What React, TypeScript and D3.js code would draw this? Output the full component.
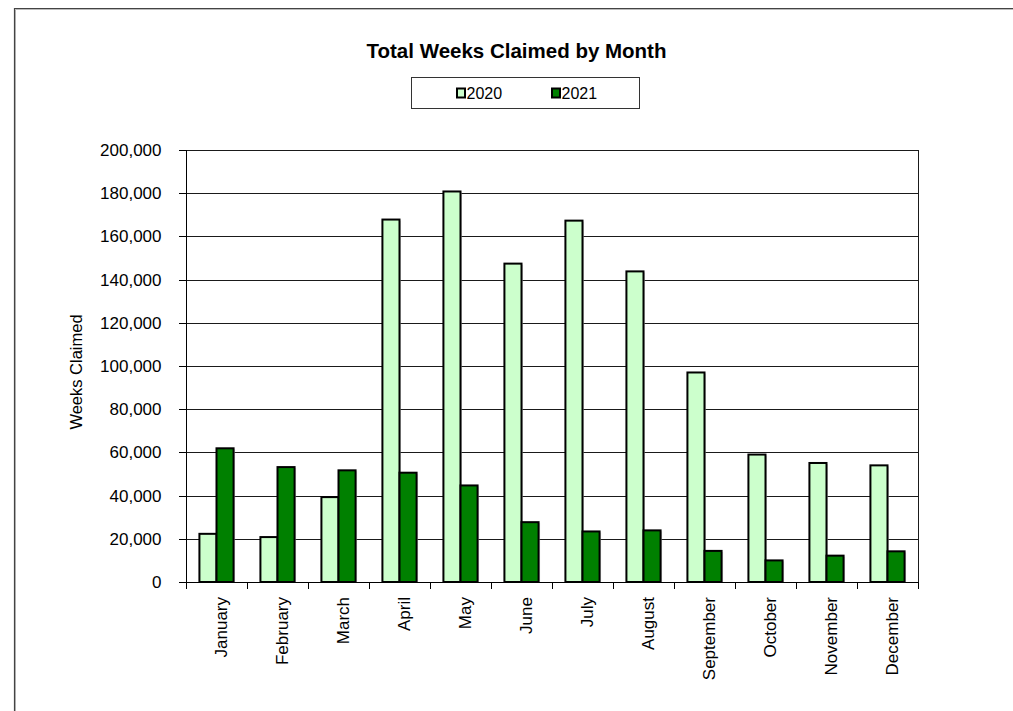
import React from "react";
import * as d3 from "d3";

const months = ["January","February","March","April","May","June","July","August","September","October","November","December"];
const series = ["2020", "2021"];
const values2020 = [22300, 20800, 39300, 167800, 180800, 147400, 167300, 143800, 97000, 59000, 55100, 54000];
const values2021 = [61900, 53200, 51700, 50600, 44700, 27700, 23400, 23900, 14400, 10000, 12200, 14200];
const yTicks = [0, 20000, 40000, 60000, 80000, 100000, 120000, 140000, 160000, 180000, 200000];
const colors = ["#CCFFCC", "#008000"];

const W = 1013, H = 711;
const L = 186, R = 918, T = 150, B = 582;
const FONT = "'Liberation Sans', Arial, sans-serif";

export default function App() {
  const x = d3.scaleBand<string>().domain(months).range([L, R]).paddingInner(0.44).paddingOuter(0.22);
  const xs = d3.scaleBand<string>().domain(series).range([0, x.bandwidth()]).padding(0);
  const y = d3.scaleLinear().domain([0, 200000]).range([B, T]);
  const fmt = d3.format(",");
  const data = [values2020, values2021];
  const step = (R - L) / months.length;

  return (
    <svg width={W} height={H} style={{ position: "absolute", left: 0, top: 0 }} fontFamily={FONT}>
      <rect x={0} y={0} width={W} height={H} fill="#fff" />
      {/* outer frame */}
      <path d={`M15.5,${H} V9.5 H${W}`} fill="none" stroke="#bbb" strokeWidth={1} />
      <path d={`M14.5,${H} V8.5 H${W}`} fill="none" stroke="#444" strokeWidth={1.2} />

      {/* title */}
      <text x={516.5} y={57.5} textAnchor="middle" fontSize={20.5} fontWeight="bold">Total Weeks Claimed by Month</text>

      {/* legend */}
      <rect x={411.5} y={77.5} width={228} height={31} fill="#fff" stroke="#333" strokeWidth={1} />
      {series.map((s, i) => {
        const lx = i === 0 ? 457 : 552;
        return (
          <g key={s}>
            <rect x={lx} y={88.5} width={8} height={9} fill={colors[i]} stroke="#000" strokeWidth={2} />
            <text x={lx + 9.5} y={98.5} fontSize={16}>{s}</text>
          </g>
        );
      })}

      {/* gridlines */}
      {yTicks.map(t => (
        <line key={t} x1={L} x2={R} y1={Math.round(y(t)) + 0.5} y2={Math.round(y(t)) + 0.5} stroke="#1a1a1a" strokeWidth={1} />
      ))}
      {/* right border */}
      <line x1={R + 0.5} x2={R + 0.5} y1={T} y2={B + 6} stroke="#1a1a1a" strokeWidth={1} />

      {/* bars */}
      {months.map((m, mi) => (
        <g key={m}>
          {series.map((s, si) => {
            const bx = (x(m) as number) + (xs(s) as number);
            const by = y(data[si][mi]);
            return (
              <g key={s}>
                <rect x={bx + 1.5} y={by + 1} width={xs.bandwidth()} height={B - by} fill="#bbb" opacity={0.6} />
                <rect x={bx} y={by} width={xs.bandwidth()} height={B - by} fill={colors[si]} stroke="#000" strokeWidth={2} />
              </g>
            );
          })}
        </g>
      ))}

      {/* y axis */}
      <line x1={L + 0.5} x2={L + 0.5} y1={T} y2={B + 6} stroke="#000" strokeWidth={1} />
      {yTicks.map(t => (
        <g key={t}>
          <line x1={L - 7} x2={L} y1={Math.round(y(t)) + 0.5} y2={Math.round(y(t)) + 0.5} stroke="#000" strokeWidth={1} />
          <text x={161.5} y={y(t) + 6} textAnchor="end" fontSize={17}>{fmt(t)}</text>
        </g>
      ))}
      <text transform={`translate(82,372) rotate(-90)`} textAnchor="middle" fontSize={16.5}>Weeks Claimed</text>

      {/* x axis */}
      <line x1={L} x2={R} y1={B + 0.5} y2={B + 0.5} stroke="#000" strokeWidth={1} />
      {d3.range(months.length + 1).map(i => (
        <line key={i} x1={Math.round(L + i * step) + 0.5} x2={Math.round(L + i * step) + 0.5} y1={B} y2={B + 7} stroke="#000" strokeWidth={1} />
      ))}
      {months.map(m => {
        const cx = (x(m) as number) + x.bandwidth() / 2 + 10;
        return (
          <text key={m} transform={`translate(${cx},597) rotate(-90)`} textAnchor="end" fontSize={17}>{m}</text>
        );
      })}
    </svg>
  );
}
